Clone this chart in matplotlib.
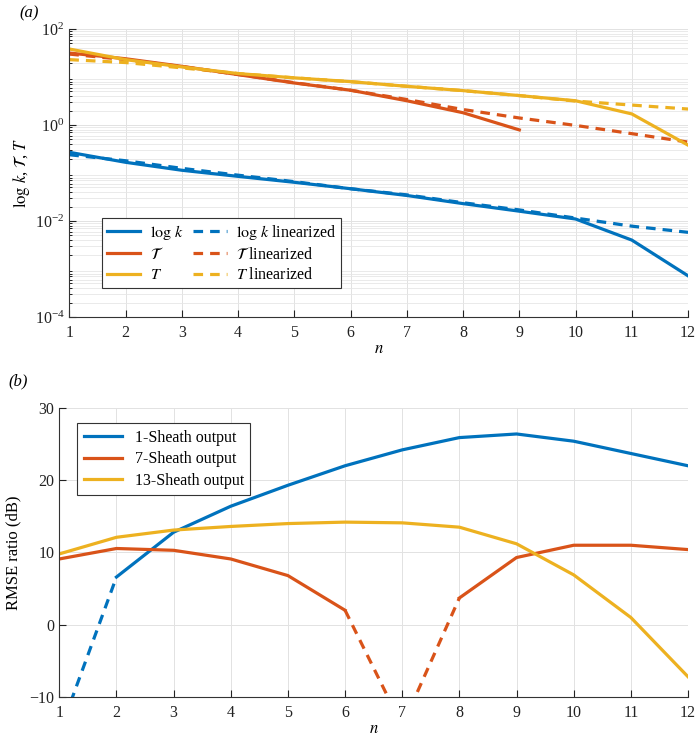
import matplotlib
matplotlib.use('Agg')
import matplotlib.pyplot as plt
from matplotlib.lines import Line2D
import numpy as np

plt.rcParams['font.family'] = ['Liberation Serif', 'DejaVu Serif']
plt.rcParams['mathtext.fontset'] = 'stix'

n = np.arange(1, 13)

# panel (a)
logk     = [0.27, 0.167, 0.114, 0.085, 0.064, 0.047, 0.034, 0.023, 0.016, 0.011, 0.004, 0.00072]
logk_lin = [0.24, 0.18, 0.125, 0.09, 0.066, 0.047, 0.035, 0.024, 0.017, 0.0115, 0.0078, 0.0058]
tau      = [31.6, 24, 16.7, 11.2, 7.5, 5.3, 3.2, 1.8, 0.79]
tau_lin  = [30, 23, 16.5, 11.3, 7.6, 5.3, 3.4, 2.1, 1.4, 0.98, 0.66, 0.44]
T        = [38.3, 23, 16.2, 11.8, 9.6, 8.0, 6.4, 5.2, 4.1, 3.2, 1.7, 0.38]
T_lin    = [23, 20, 15.5, 11.8, 9.6, 8.0, 6.4, 5.2, 4.1, 3.15, 2.6, 2.15]

# panel (b)
sheath1  = [-15, 6.6, 12.8, 16.4, 19.3, 22.0, 24.2, 25.9, 26.4, 25.4, 23.7, 22.0]
sheath7  = [9.1, 10.55, 10.3, 9.1, 6.8, 2.0, -14, 3.7, 9.3, 11.0, 11.0, 10.4]
sheath13 = [9.8, 12.1, 13.1, 13.6, 14.0, 14.2, 14.1, 13.5, 11.2, 6.9, 1.0, -7.2]

c1, c2, c3 = '#0072BD', '#D95319', '#EDB120'
lw = 2.3
dash = (0, (3, 2.2))

fig = plt.figure(figsize=(6.96, 7.38), dpi=100)
ax1 = fig.add_axes([0.0996, 0.5705, 0.889, 0.3902])
ax2 = fig.add_axes([0.0852, 0.0556, 0.9033, 0.3916])

def style(ax):
    for s in ['top', 'right']:
        ax.spines[s].set_visible(False)
    ax.spines['left'].set_color('#333333')
    ax.spines['bottom'].set_color('#333333')
    ax.tick_params(direction='in', labelsize=11.5, colors='#222222', length=5)
    ax.tick_params(axis='x', pad=6)
    ax.tick_params(which='minor', direction='in', length=2.5)
    ax.set_xlim(1, 12)
    ax.set_xticks(n)
    ax.set_xlabel('$n$', fontsize=12, labelpad=0)

# --- (a)
ax1.set_yscale('log')
ax1.plot(n, logk, color=c1, lw=lw)
ax1.plot(n, tau_lin, color=c2, lw=lw, ls=dash)
ax1.plot(n, T_lin, color=c3, lw=lw, ls=dash)
ax1.plot(n, logk_lin, color=c1, lw=lw, ls=dash)
ax1.plot(n[:len(tau)], tau, color=c2, lw=lw)
ax1.plot(n, T, color=c3, lw=lw)
ax1.set_ylim(1e-4, 1e2)
ax1.set_yticks([1e-4, 1e-2, 1e0, 1e2])
ax1.grid(True, which='major', color='#e2e2e2', lw=0.7)
ax1.grid(True, which='minor', axis='y', color='#e6e6e6', lw=0.6)
ax1.set_axisbelow(True)
style(ax1)
ax1.set_ylabel(r'$\log\,k$, $\mathcal{T}$, $T$', fontsize=12, labelpad=2)

h = [Line2D([], [], color=c1, lw=lw), Line2D([], [], color=c2, lw=lw), Line2D([], [], color=c3, lw=lw),
     Line2D([], [], color=c1, lw=lw, ls=dash), Line2D([], [], color=c2, lw=lw, ls=dash),
     Line2D([], [], color=c3, lw=lw, ls=dash)]
lab = [r'$\log\,k$', r'$\mathcal{T}$', r'$T$', r'$\log\,k$ linearized', r'$\mathcal{T}$ linearized', r'$T$ linearized']
leg = ax1.legend(h, lab, ncol=2, loc='lower left', bbox_to_anchor=(0.04, 0.072), fontsize=11.5,
                 fancybox=False, edgecolor='#333333', framealpha=1, handlelength=2.1,
                 columnspacing=0.6, handletextpad=0.6, borderpad=0.3, labelspacing=0.3)
leg.get_frame().set_linewidth(0.8)

# --- (b)
ax2.plot(n[1:], sheath1[1:], color=c1, lw=lw, label='1-Sheath output')
ax2.plot(n[:2], sheath1[:2], color=c1, lw=lw, ls=dash)
ax2.plot(n[:6], sheath7[:6], color=c2, lw=lw, label='7-Sheath output')
ax2.plot(n[5:8], sheath7[5:8], color=c2, lw=lw, ls=dash)
ax2.plot(n[7:], sheath7[7:], color=c2, lw=lw)
ax2.plot(n, sheath13, color=c3, lw=lw, label='13-Sheath output')
ax2.set_ylim(-10, 30)
ax2.set_yticks([-10, 0, 10, 20, 30])
ax2.set_yticklabels(['\u221210', '0', '10', '20', '30'])
ax2.grid(True, color='#e2e2e2', lw=0.7)
ax2.set_axisbelow(True)
style(ax2)
ax2.set_ylabel('RMSE ratio (dB)', fontsize=12, labelpad=6)
leg2 = ax2.legend(loc='upper left', bbox_to_anchor=(0.016, 0.975), fontsize=11.5, fancybox=False,
                  edgecolor='#333333', framealpha=1, handlelength=2.4, borderpad=0.4, labelspacing=0.35)
leg2.get_frame().set_linewidth(0.8)

fig.text(0.028, 0.982, '(a)', fontsize=12, style='italic', va='center')
fig.text(0.012, 0.483, '(b)', fontsize=12, style='italic', va='center')

fig.savefig('out.png', dpi=100)
